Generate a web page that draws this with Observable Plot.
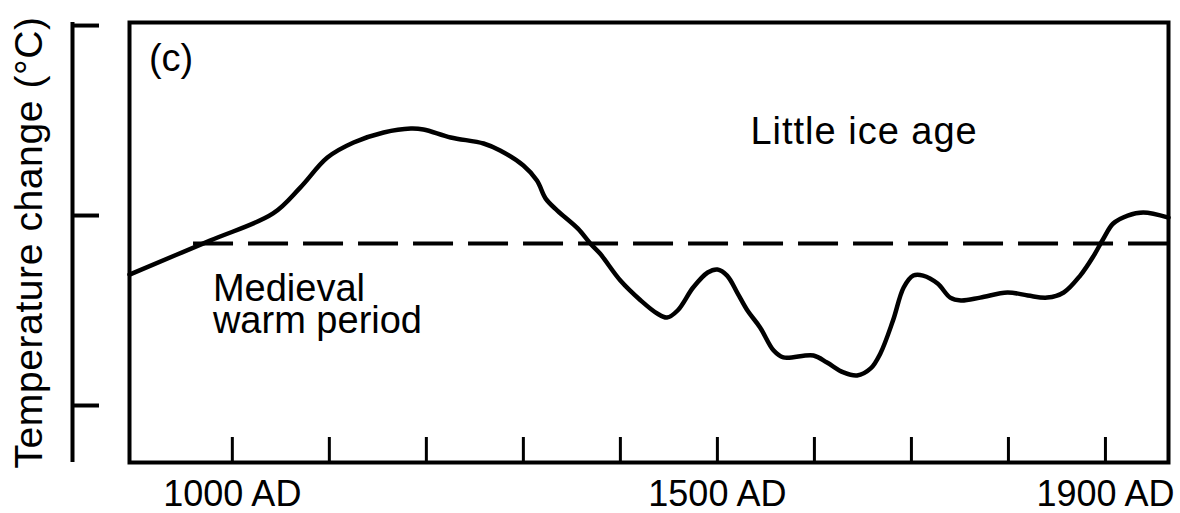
<!DOCTYPE html>
<html>
<head>
<meta charset="utf-8">
<script src="https://cdn.jsdelivr.net/npm/d3@7"></script>
<script src="https://cdn.jsdelivr.net/npm/@observablehq/plot@0.6"></script>
<style>
  html, body { margin: 0; padding: 0; background: #fff; }
  #chart { width: 1180px; height: 513px; }
</style>
</head>
<body>
<div id="chart"></div>
<script>
// ---- data ----
const years = [894, 977, 1042, 1070, 1098, 1125, 1156, 1184, 1197, 1225, 1259, 1276, 1300, 1314, 1323, 1335, 1356, 1369, 1379, 1400, 1421, 1438, 1448, 1459, 1475, 1490, 1500, 1510, 1521, 1531, 1544, 1558, 1568, 1599, 1613, 1630, 1644, 1658, 1668, 1681, 1692, 1702, 1712, 1727, 1740, 1751, 1771, 1799, 1820, 1840, 1857, 1874, 1888, 1898, 1908, 1923, 1939, 1965];
const temps = [-0.311, -0.132, 0.011, 0.147, 0.305, 0.384, 0.437, 0.458, 0.453, 0.411, 0.379, 0.342, 0.263, 0.184, 0.089, 0.026, -0.068, -0.147, -0.2, -0.342, -0.447, -0.516, -0.537, -0.5, -0.379, -0.3, -0.284, -0.316, -0.411, -0.5, -0.589, -0.711, -0.747, -0.737, -0.774, -0.826, -0.842, -0.805, -0.726, -0.553, -0.379, -0.316, -0.316, -0.358, -0.432, -0.447, -0.432, -0.405, -0.421, -0.432, -0.405, -0.316, -0.211, -0.121, -0.042, 0, 0.016, -0.011];

const xDomain = [894, 1965];
const yDomain = [-1.3, 1.016];
const xTicks = [1000, 1100, 1200, 1300, 1400, 1500, 1600, 1700, 1800, 1900];
const xLabelTicks = [1000, 1500, 1900];
const yTicks = [-1, 0, 1];
const referenceLevel = -0.147;
const referenceStart = 960;
const yLabel = "Temperature change (°C)";

const annotationText = ["(c)", "Little ice age", "Medieval\nwarm period"];
const annotationYear = [914, 1534, 980];
const annotationValue = [0.763, 0.379, -0.616];

// ---- build tables ----
const series = years.map((year, i) => ({year, temp: temps[i]}));
const annotations = annotationText.map((text, i) => ({text, x: annotationYear[i], y: annotationValue[i]}));

const font = "'Liberation Sans', Arial, Helvetica, sans-serif";

const chart = Plot.plot({
  width: 1180,
  height: 513,
  marginLeft: 129,
  marginRight: 12,
  marginTop: 22,
  marginBottom: 51,
  x: {domain: xDomain, label: null},
  y: {domain: yDomain, label: null},
  style: {fontFamily: font, background: "#fff", color: "#000", overflow: "visible"},
  marks: [
    Plot.frame({stroke: "#000", strokeWidth: 4}),
    Plot.ruleY([referenceLevel], {x1: referenceStart, x2: xDomain[1], stroke: "#000", strokeWidth: 4, strokeDasharray: "40,15"}),
    Plot.line(series, {x: "year", y: "temp", curve: "catmull-rom", stroke: "#000", strokeWidth: 4.5}),
    Plot.axisX({ticks: xTicks, tickSize: -25, stroke: "#000", strokeWidth: 3, tickFormat: () => "", label: null}),
    Plot.axisX({ticks: xLabelTicks, tickSize: 0, tickPadding: 18, fontSize: 36, fill: "#000", tickFormat: d => `${d} AD`, label: null}),
    Plot.axisY({ticks: yTicks, tickSize: -27, dx: -57, stroke: "#000", strokeWidth: 4, tickFormat: () => "", label: null}),
    Plot.ruleX([xDomain[0]], {dx: -57, stroke: "#000", strokeWidth: 4}),
    Plot.text([yLabel], {frameAnchor: "left", rotate: -90, dx: -100, fontSize: 39, fill: "#000", textAnchor: "middle", lineAnchor: "middle"}),
    Plot.text(annotations, {x: "x", y: "y", text: "text", textAnchor: "start", lineAnchor: "bottom", fontSize: 38, lineHeight: 0.84, fill: "#000"})
  ]
});

// slight letter spacing to match the wider typeface of the original
d3.select(chart).selectAll("text").each(function() {
  const t = this.textContent;
  if (t === yLabel) this.setAttribute("letter-spacing", "0.6");
  else if (t === "Little ice age") this.setAttribute("letter-spacing", "1");
});

document.getElementById("chart").appendChild(chart);
</script>
</body>
</html>
